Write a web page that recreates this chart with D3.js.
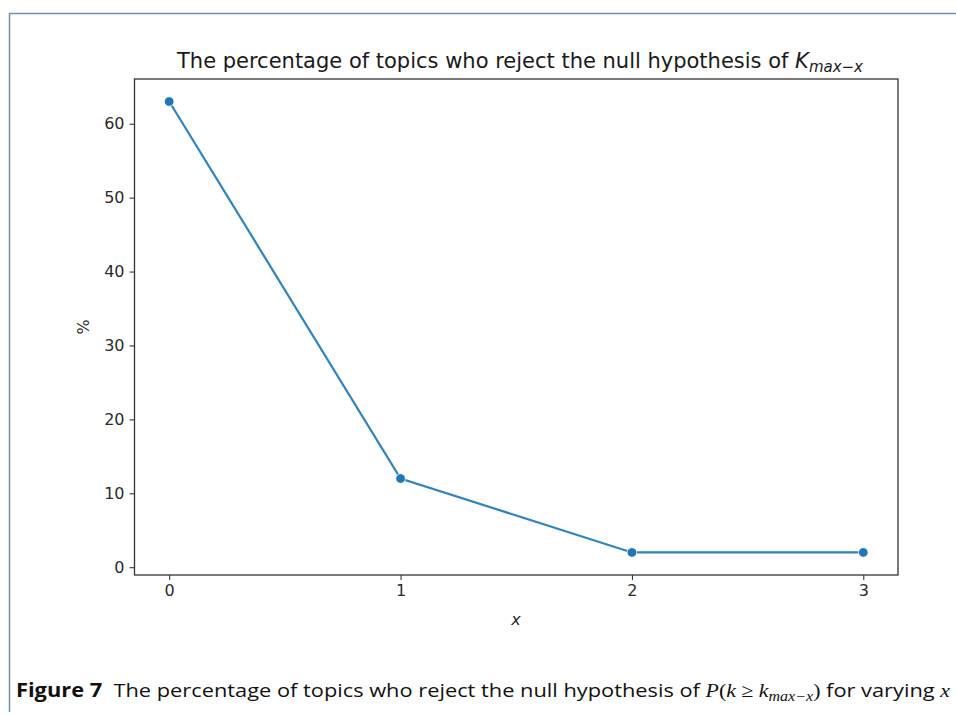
<!DOCTYPE html>
<html>
<head>
<meta charset="utf-8">
<script src="https://d3js.org/d3.v7.min.js"></script>
<style>
  body { margin: 0; background: #fff; }
  svg { display: block; }
  .tick text { font-family: "DejaVu Sans", sans-serif; font-size: 16px; fill: #2b2b2b; }
  .tick line { stroke: #262626; }
</style>
</head>
<body>
<script>
// data
var xs = [0, 1, 2, 3];
var pct = [63, 12, 2, 2];
var yTicks = [0, 10, 20, 30, 40, 50, 60];

var W = 956, H = 715;
var plot = {left: 134.5, right: 898, top: 79, bottom: 575};

var svg = d3.select('body').append('svg')
  .attr('width', W).attr('height', H);

// page frame (top and left rule)
svg.append('path')
  .attr('d', 'M9.5,712 V13.5 H956')
  .attr('fill', 'none')
  .attr('stroke', '#7090b0')
  .attr('stroke-width', 1.5);

var x = d3.scaleLinear().domain([-0.15, 3.15]).range([plot.left, plot.right]);
var y = d3.scaleLinear().domain([-1.05, 66.05]).range([plot.bottom, plot.top]);

// axes
var xAxis = svg.append('g')
  .attr('transform', 'translate(0,' + plot.bottom + ')')
  .call(d3.axisBottom(x).tickValues(xs).tickFormat(d3.format('d')).tickSize(5).tickPadding(5));
var yAxis = svg.append('g')
  .attr('transform', 'translate(' + plot.left + ',0)')
  .call(d3.axisLeft(y).tickValues(yTicks).tickFormat(d3.format('d')).tickSize(5).tickPadding(5));
xAxis.select('.domain').remove();
yAxis.select('.domain').remove();

// frame of plot area
svg.append('rect')
  .attr('x', plot.left).attr('y', plot.top)
  .attr('width', plot.right - plot.left).attr('height', plot.bottom - plot.top)
  .attr('fill', 'none').attr('stroke', '#333').attr('stroke-width', 1.3);

// line and markers
var line = d3.line()
  .x(function(d, i) { return x(xs[i]); })
  .y(function(d) { return y(d); });

svg.append('path')
  .datum(pct)
  .attr('d', line)
  .attr('fill', 'none')
  .attr('stroke', '#2e84c0')
  .attr('stroke-width', 2.2);

svg.selectAll('circle.pt')
  .data(pct)
  .enter().append('circle')
  .attr('class', 'pt')
  .attr('cx', function(d, i) { return x(xs[i]); })
  .attr('cy', function(d) { return y(d); })
  .attr('r', 4.8)
  .attr('fill', '#1f77b4')
  .attr('stroke', '#fff')
  .attr('stroke-width', 0.8);

// title
var title = svg.append('text')
  .attr('x', 177).attr('y', 68)
  .attr('textLength', 686).attr('lengthAdjust', 'spacingAndGlyphs')
  .style('font-family', '"DejaVu Sans", sans-serif')
  .style('font-size', '21px')
  .style('fill', '#1a1a1a');
title.append('tspan').text('The percentage of topics who reject the null hypothesis of ');
title.append('tspan').style('font-style', 'italic').text('K');
title.append('tspan').style('font-style', 'italic').style('font-size', '15px')
  .attr('dy', 4).text('max\u2212x');

// axis labels
svg.append('text')
  .attr('transform', 'translate(89,327) rotate(-90)')
  .attr('text-anchor', 'middle')
  .style('font-family', '"DejaVu Sans", sans-serif')
  .style('font-size', '16px').style('fill', '#2b2b2b')
  .text('%');
svg.append('text')
  .attr('x', 516).attr('y', 625)
  .attr('text-anchor', 'middle')
  .style('font-family', '"DejaVu Sans", sans-serif')
  .style('font-size', '16px').style('font-style', 'italic').style('fill', '#2b2b2b')
  .text('x');

// caption
var cap = svg.append('text')
  .attr('x', 16).attr('y', 697)
  .attr('textLength', 934).attr('lengthAdjust', 'spacingAndGlyphs')
  .style('font-family', '"Open Sans", sans-serif')
  .style('font-size', '19px')
  .style('fill', '#111');
cap.append('tspan').style('font-weight', 'bold').text('Figure 7');
cap.append('tspan').text('\u00a0 The percentage of topics who reject the null hypothesis of ');
cap.append('tspan').style('font-family', '"Liberation Serif", serif').style('font-style', 'italic').text('P');
cap.append('tspan').style('font-family', '"Liberation Serif", serif').text('(');
cap.append('tspan').style('font-family', '"Liberation Serif", serif').style('font-style', 'italic').text('k');
cap.append('tspan').style('font-family', '"Liberation Serif", serif').text('\u00a0\u2265\u00a0');
cap.append('tspan').style('font-family', '"Liberation Serif", serif').style('font-style', 'italic').text('k');
cap.append('tspan').style('font-family', '"Liberation Serif", serif').style('font-style', 'italic')
  .style('font-size', '14px').attr('dy', 4).text('max\u2212x');
cap.append('tspan').style('font-family', '"Liberation Serif", serif').attr('dy', -4).text(')');
cap.append('tspan').text(' for varying ');
cap.append('tspan').style('font-family', '"Liberation Serif", serif').style('font-style', 'italic').text('x');
</script>
</body>
</html>
